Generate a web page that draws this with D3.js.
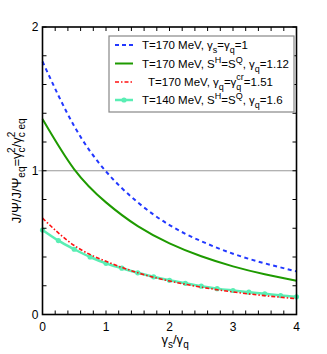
<!DOCTYPE html>
<html><head><meta charset="utf-8">
<script src="https://cdn.jsdelivr.net/npm/d3@7"></script>
<style>body{margin:0;background:#fff}svg{display:block;font-family:"Liberation Sans",Arial,sans-serif}</style>
</head><body><svg id="c" width="327" height="354"></svg>
<script>
const xsBlue = [0,0.5,1,1.5,2,2.5,3,3.5,4];
const blueVals  = [1.76,1.31,0.995,0.78,0.622,0.51,0.423,0.356,0.30];
const greenVals = [1.36,1.01,0.78,0.615,0.495,0.405,0.335,0.28,0.235];
const redVals   = [0.67,0.48,0.37,0.29,0.233,0.19,0.157,0.131,0.11];
const xsCyan = [0,0.25,0.5,0.75,1,1.25,1.5,1.75,2,2.25,2.5,2.75,3,3.25,3.5,3.75,4];
const cyanVals = [0.588,0.514,0.454,0.40,0.356,0.322,0.29,0.262,0.238,0.217,0.197,0.18,0.167,0.155,0.144,0.132,0.123];
const xTickLabels = [0,1,2,3,4];
const yTickLabels = [0,1,2];

const svg = d3.select("#c");
const L=42.5,R=296.5,T=27,B=314.5;
const x = d3.scaleLinear().domain([0,4]).range([L,R]);
const y = d3.scaleLinear().domain([0,2]).range([B,T]);

svg.append("line").attr("x1",L-4).attr("x2",R).attr("y1",y(1)).attr("y2",y(1)).attr("stroke","#999").attr("stroke-width",1);

const line = d3.line().curve(d3.curveNatural);
const lineC = d3.line().curve(d3.curveMonotoneX);
function pts(xs,vs){return xs.map((d,i)=>[x(d),y(vs[i])]);}
const g = svg.append("g");
g.append("path").attr("d",line(pts(xsBlue,blueVals))).attr("fill","none").attr("stroke","#2238ff").attr("stroke-width",2).attr("stroke-dasharray","4,3.5");
g.append("path").attr("d",line(pts(xsBlue,greenVals))).attr("fill","none").attr("stroke","#1e9a00").attr("stroke-width",2);
g.append("path").attr("d",lineC(pts(xsCyan,cyanVals))).attr("fill","none").attr("stroke","#5aeeb4").attr("stroke-width",2.5);
g.selectAll("circle.c").data(xsCyan).join("circle").attr("cx",d=>x(d)).attr("cy",(d,i)=>y(cyanVals[i])).attr("r",2.6).attr("fill","#5aeeb4");
g.append("path").attr("d",line(pts(xsBlue,redVals))).attr("fill","none").attr("stroke","#ff1010").attr("stroke-width",1.6).attr("stroke-dasharray","4,2,1.5,2");

const ax = svg.append("g").attr("stroke","#000");
ax.append("rect").attr("x",L).attr("y",T).attr("width",R-L).attr("height",B-T).attr("fill","none").attr("stroke-width",1.6);
const xt = d3.range(0,4.001,0.2), yt = d3.range(0,2.001,0.2);
xt.forEach(v=>{
  ax.append("line").attr("x1",x(v)).attr("x2",x(v)).attr("y1",B).attr("y2",B-4).attr("stroke-width",1);
  ax.append("line").attr("x1",x(v)).attr("x2",x(v)).attr("y1",T).attr("y2",T+4).attr("stroke-width",1);
});
yt.forEach(v=>{
  ax.append("line").attr("x1",L).attr("x2",L+4).attr("y1",y(v)).attr("y2",y(v)).attr("stroke-width",1);
  ax.append("line").attr("x1",R).attr("x2",R-4).attr("y1",y(v)).attr("y2",y(v)).attr("stroke-width",1);
});
svg.selectAll("text.xt").data(xTickLabels).join("text").attr("x",d=>x(d)).attr("y",B+16).attr("text-anchor","middle").attr("font-size",12).text(d=>d);
svg.selectAll("text.yt").data(yTickLabels).join("text").attr("x",L-4).attr("y",d=>y(d)+4).attr("text-anchor","end").attr("font-size",12).text(d=>d);

const xl = svg.append("text").attr("x",x(2)-8).attr("y",B+29).attr("font-size",13);
xl.append("tspan").text("γ");
xl.append("tspan").attr("dy",4).attr("font-size",10).text("s");
xl.append("tspan").attr("dy",-4).text("/γ");
xl.append("tspan").attr("dy",4).attr("font-size",10).text("q");

const yl = svg.append("text").attr("transform",`translate(21,${y(1)}) rotate(-90)`).attr("text-anchor","middle").attr("font-size",13);
yl.append("tspan").text("J/Ψ/J/Ψ");
yl.append("tspan").attr("dy",4).attr("font-size",10).text("eq");
yl.append("tspan").attr("dy",-4).text("=γ");
yl.append("tspan").attr("dy",4).attr("font-size",10).text("c");
yl.append("tspan").attr("dy",-10).attr("dx",-5.5).attr("font-size",10).text("2");
yl.append("tspan").attr("dy",6).text("/γ");
yl.append("tspan").attr("dy",4).attr("font-size",10).text("c eq");
yl.append("tspan").attr("dy",-10).attr("dx",-19).attr("font-size",10).text("2");

const lg = svg.append("g");
lg.append("rect").attr("x",109).attr("y",36).attr("width",185).attr("height",76).attr("fill","#fff").attr("stroke","#888").attr("stroke-width",1.2);
const rows=[45,63.5,82,100];
const sx1=115, sx2=133, tx=142;
lg.append("line").attr("x1",sx1).attr("x2",sx2).attr("y1",rows[0]).attr("y2",rows[0]).attr("stroke","#2238ff").attr("stroke-width",2).attr("stroke-dasharray","4,3");
lg.append("line").attr("x1",sx1).attr("x2",sx2).attr("y1",rows[1]).attr("y2",rows[1]).attr("stroke","#1e9a00").attr("stroke-width",2);
lg.append("line").attr("x1",sx1).attr("x2",sx2).attr("y1",rows[2]).attr("y2",rows[2]).attr("stroke","#ff1010").attr("stroke-width",1.6).attr("stroke-dasharray","4,2,1.5,2");
lg.append("line").attr("x1",sx1).attr("x2",sx2).attr("y1",rows[3]).attr("y2",rows[3]).attr("stroke","#5aeeb4").attr("stroke-width",2.5);
lg.append("circle").attr("cx",(sx1+sx2)/2).attr("cy",rows[3]).attr("r",2.6).attr("fill","#5aeeb4");
const fs=11.5;
function tt(i,xx){return lg.append("text").attr("x",xx).attr("y",rows[i]+4).attr("font-size",fs);}
let t;
t=tt(0,tx); t.append("tspan").text("T=170 MeV, γ"); t.append("tspan").attr("dy",4).attr("font-size",9).text("s");
t.append("tspan").attr("dy",-4).text("=γ"); t.append("tspan").attr("dy",4).attr("font-size",9).text("q"); t.append("tspan").attr("dy",-4).text("=1");
t=tt(1,tx); t.append("tspan").text("T=170 MeV,  S"); t.append("tspan").attr("dy",-5).attr("font-size",9).text("H");
t.append("tspan").attr("dy",5).text("=S"); t.append("tspan").attr("dy",-5).attr("font-size",9).text("Q");
t.append("tspan").attr("dy",5).text(", γ"); t.append("tspan").attr("dy",4).attr("font-size",9).text("q"); t.append("tspan").attr("dy",-4).text("=1.12");
t=tt(2,tx+6); t.append("tspan").text("T=170 MeV,   γ"); t.append("tspan").attr("dy",4).attr("font-size",9).text("q");
t.append("tspan").attr("dy",-4).text("=γ"); t.append("tspan").attr("dy",4).attr("font-size",9).text("q");
t.append("tspan").attr("dy",-10).attr("dx",-5).attr("font-size",9).text("cr"); t.append("tspan").attr("dy",6).text("=1.51");
t=tt(3,tx); t.append("tspan").text("T=140 MeV, S"); t.append("tspan").attr("dy",-5).attr("font-size",9).text("H");
t.append("tspan").attr("dy",5).text("=S"); t.append("tspan").attr("dy",-5).attr("font-size",9).text("Q");
t.append("tspan").attr("dy",5).text(", γ"); t.append("tspan").attr("dy",4).attr("font-size",9).text("q"); t.append("tspan").attr("dy",-4).text("=1.6");
</script></body></html>
